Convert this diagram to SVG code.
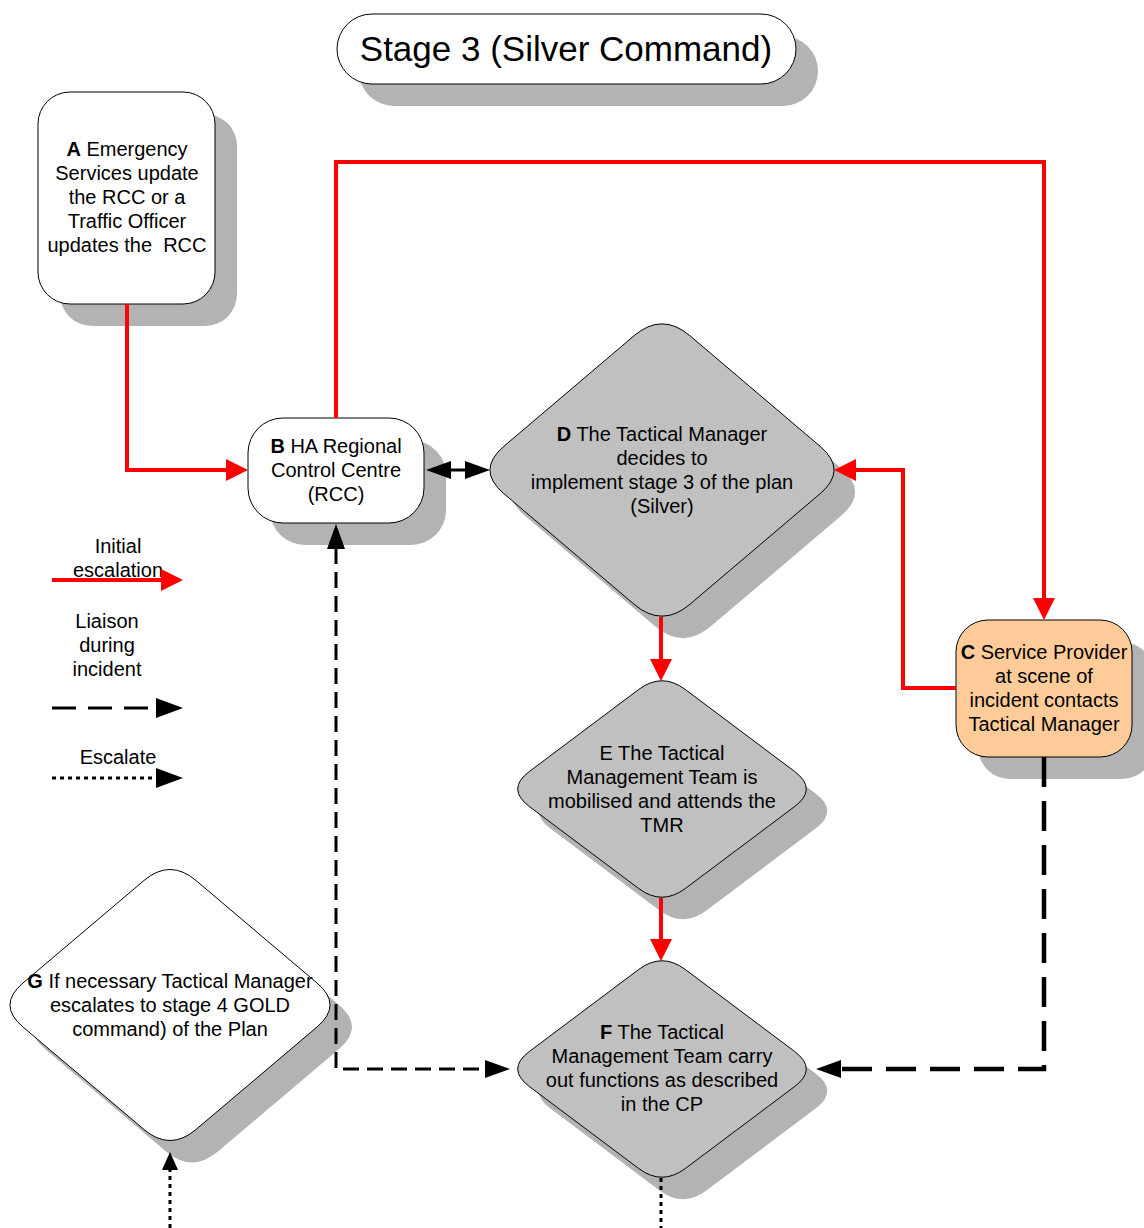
<svg xmlns="http://www.w3.org/2000/svg" width="1144" height="1228" viewBox="0 0 1144 1228">
<style>
text{font-family:"Liberation Sans",Arial,sans-serif;font-size:20px;fill:#000;text-anchor:middle}
.title{font-size:35px}
.b{font-weight:bold}
.sh{fill:#b3b3b3;stroke:none}
.box{fill:#fff;stroke:#000;stroke-width:1}
.gray{fill:#c0c0c0;stroke:#000;stroke-width:1}
.peach{fill:#ffcc99;stroke:#000;stroke-width:1}
.red{fill:none;stroke:#f00;stroke-width:4}
.dash{fill:none;stroke:#000;stroke-width:3;stroke-dasharray:16 8}
.dash2{fill:none;stroke:#000;stroke-width:4.5;stroke-dasharray:30 14}
.dot{fill:none;stroke:#000;stroke-width:3;stroke-dasharray:4 4}
.solid{fill:none;stroke:#000;stroke-width:3}
</style>
<defs>
<marker id="ra" markerUnits="userSpaceOnUse" viewBox="0 0 22 22" refX="1" refY="11" markerWidth="22" markerHeight="22" orient="auto"><path d="M0,0 L22,11 L0,22 Z" fill="#f00"/></marker>
<marker id="ba" markerUnits="userSpaceOnUse" viewBox="0 0 25 20" refX="1" refY="10" markerWidth="25" markerHeight="20" orient="auto-start-reverse"><path d="M0,1 L25,10 L0,19 Z" fill="#000"/></marker>
<marker id="bs" markerUnits="userSpaceOnUse" viewBox="0 0 18 16" refX="1" refY="8" markerWidth="18" markerHeight="16" orient="auto"><path d="M0,0 L18,8 L0,16 Z" fill="#000"/></marker>
<path id="dD" d="M27.9,-134.3 L158.1,-23.7 Q186,0 158.1,23.7 L27.9,134.3 Q0,158 -27.9,134.3 L-158.1,23.7 Q-186,0 -158.1,-23.7 L-27.9,-134.3 Q0,-158 27.9,-134.3 Z"/>
<path id="dE" d="M23.4,-99.45 L132.6,-17.55 Q156,0 132.6,17.55 L23.4,99.45 Q0,117 -23.4,99.45 L-132.6,17.55 Q-156,0 -132.6,-17.55 L-23.4,-99.45 Q0,-117 23.4,-99.45 Z"/>
<path id="dG" d="M25.95,-124.525 L147.05,-21.975 Q173,0 147.05,21.975 L25.95,124.525 Q0,146.5 -25.95,124.525 L-147.05,21.975 Q-173,0 -147.05,-21.975 L-25.95,-124.525 Q0,-146.5 25.95,-124.525 Z"/>
</defs>
<rect width="1144" height="1228" fill="#fff"/>

<g id="title">
<rect class="sh" x="359" y="36" width="459" height="70" rx="35"/>
<rect class="box" x="337" y="14" width="459" height="70" rx="35"/>
<text class="title" x="566" y="61">Stage 3 (Silver Command)</text>
</g>

<g id="nodeA">
<rect class="sh" x="60" y="114" width="177" height="212" rx="32"/>
<rect class="box" x="38" y="92" width="177" height="212" rx="32"/>
<text x="127" y="156"><tspan class="b">A</tspan> Emergency</text>
<text x="127" y="180">Services update</text>
<text x="127" y="204">the RCC or a</text>
<text x="127" y="228">Traffic Officer</text>
<text x="127" y="252" xml:space="preserve">updates the  RCC</text>
</g>

<g id="nodeB">
<rect class="sh" x="270" y="440" width="176" height="105" rx="35"/>
<rect class="box" x="248" y="418" width="176" height="105" rx="35"/>
<text x="336" y="453"><tspan class="b">B</tspan> HA Regional</text>
<text x="336" y="477">Control Centre</text>
<text x="336" y="501">(RCC)</text>
</g>

<g id="nodeD">
<use href="#dD" class="sh" transform="translate(683,492)"/>
<use href="#dD" class="gray" transform="translate(662,470)"/>
<text x="662" y="441"><tspan class="b">D</tspan> The Tactical Manager</text>
<text x="662" y="465">decides to</text>
<text x="662" y="489">implement stage 3 of the plan</text>
<text x="662" y="513">(Silver)</text>
</g>

<g id="nodeC">
<rect class="sh" x="978" y="642" width="176" height="137" rx="32"/>
<rect class="peach" x="956" y="620" width="176" height="137" rx="32"/>
<text x="1044" y="659"><tspan class="b">C</tspan> Service Provider</text>
<text x="1044" y="683">at scene of</text>
<text x="1044" y="707">incident contacts</text>
<text x="1044" y="731">Tactical Manager</text>
</g>

<g id="nodeE">
<use href="#dE" class="sh" transform="translate(683,811)"/>
<use href="#dE" class="gray" transform="translate(662,789)"/>
<text x="662" y="760">E The Tactical</text>
<text x="662" y="784">Management Team is</text>
<text x="662" y="808">mobilised and attends the</text>
<text x="662" y="832">TMR</text>
</g>

<g id="nodeF">
<use href="#dE" class="sh" transform="translate(683,1091)"/>
<use href="#dE" class="gray" transform="translate(662,1069)"/>
<text x="662" y="1039"><tspan class="b">F</tspan> The Tactical</text>
<text x="662" y="1063">Management Team carry</text>
<text x="662" y="1087">out functions as described</text>
<text x="662" y="1111">in the CP</text>
</g>

<g id="nodeG">
<use href="#dG" class="sh" transform="translate(192,1027)"/>
<use href="#dG" class="box" transform="translate(170,1005)"/>
<text x="170" y="988"><tspan class="b">G</tspan> If necessary Tactical Manager</text>
<text x="170" y="1012">escalates to stage 4 GOLD</text>
<text x="170" y="1036">command) of the Plan</text>
</g>

<g id="connectors">
<path class="red" d="M127,304 L127,470 L227,470" marker-end="url(#ra)"/>
<path class="red" d="M336,418 L336,162 L1044,162 L1044,599" marker-end="url(#ra)"/>
<path class="red" d="M956,688 L903,688 L903,470 L855,470" marker-end="url(#ra)"/>
<path class="red" d="M661,617 L661,660" marker-end="url(#ra)"/>
<path class="red" d="M661,898 L661,940" marker-end="url(#ra)"/>
<path class="solid" d="M450,470 L466,470" marker-start="url(#ba)" marker-end="url(#ba)"/>
<path class="dash" d="M336,548 L336,1069 L486,1069" marker-start="url(#ba)" marker-end="url(#ba)"/>
<path class="dash2" d="M1044,757 L1044,1069 L840,1069" marker-end="url(#ba)"/>
<path class="dot" d="M170,1228 L170,1169" marker-end="url(#bs)"/>
<path class="dot" d="M661,1178 L661,1228"/>
</g>

<g id="legend">
<text x="118" y="553">Initial</text>
<text x="118" y="577">escalation</text>
<path class="red" d="M52,580 L162,580" marker-end="url(#ra)"/>
<text x="107" y="628">Liaison</text>
<text x="107" y="652">during</text>
<text x="107" y="676">incident</text>
<path fill="none" stroke="#000" stroke-width="3" stroke-dasharray="24 12" d="M52,708 L148,708"/>
<path d="M156,698 L183,708 L156,718 Z" fill="#000"/>
<text x="118" y="764">Escalate</text>
<path class="dot" d="M52,778 L157,778"/>
<path d="M156,768 L183,778 L156,788 Z" fill="#000"/>
</g>
</svg>
